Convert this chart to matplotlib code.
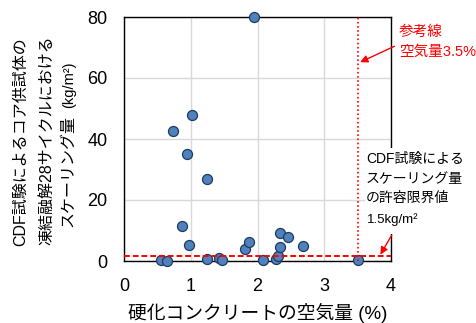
import matplotlib
matplotlib.use("Agg")
import matplotlib.pyplot as plt
from matplotlib.patches import Rectangle

# air content of hardened concrete (%) vs. scaling after 28 freeze-thaw cycles (kg/m2)
air_content = [1.95, 1.02, 0.73, 0.94, 1.24, 0.87, 0.97, 0.56, 0.65, 1.24, 1.42,
               1.47, 1.81, 1.88, 2.08, 2.27, 2.30, 2.33, 2.34, 2.46, 2.68, 3.50]
scaling = [80.0, 48.0, 42.7, 35.1, 27.0, 11.4, 5.4, 0.2, 0.0, 0.7, 0.9,
           0.3, 3.8, 6.2, 0.4, 0.7, 1.5, 4.6, 9.3, 7.8, 4.8, 0.3]

ref_air = 3.5        # reference air content (%)
limit_scaling = 1.5  # allowable scaling limit (kg/m2)

x_ticks = [0, 1, 2, 3, 4]
y_ticks = [0, 20, 40, 60, 80]

JP = ["Liberation Sans", "Noto Sans CJK JP"]
plt.rcParams["font.family"] = JP

W, H = 477, 323
fig = plt.figure(figsize=(W / 100, H / 100), dpi=100)


def fx(px):
    return px / W


def fy(py):
    return 1 - py / H


ax = fig.add_axes([fx(124), fy(261), (391 - 124) / W, (261 - 17) / H])
ax.set_xlim(0, 4)
ax.set_ylim(0, 80)
ax.set_xticks(x_ticks)
ax.set_yticks(y_ticks)
ax.tick_params(length=0, pad=12, labelsize=13)
ax.grid(True, color="#d9d9d9", linewidth=1)
ax.set_axisbelow(True)
for sp in ax.spines.values():
    sp.set_color("black")
    sp.set_linewidth(1)

ax.scatter(air_content, scaling, s=52, facecolor="#4f81bd", edgecolor="#1f3a5f",
           linewidth=0.9, zorder=3, clip_on=False)

# reference lines
ax.axvline(ref_air, color="red", linestyle=(0, (1, 1.5)), linewidth=1.2, zorder=4)
ax.axhline(limit_scaling, color="red", linestyle=(0, (3, 1.5)), linewidth=1.4, zorder=4)

# x label
ax.set_xlabel("硬化コンクリートの空気量 (%)", fontsize=13.5, labelpad=6)

# y label, three rotated lines
fig.text(fx(21), fy(142), "CDF試験によるコア供試体の", rotation=90,
         ha="center", va="center", fontsize=11.5)
fig.text(fx(47), fy(140), "凍結融解28サイクルにおける", rotation=90,
         ha="center", va="center", fontsize=11.5)
fig.text(fx(68), fy(227), "スケーリング量", rotation=90,
         ha="center", va="bottom", fontsize=11.5)
fig.text(fx(69), fy(108), "(kg/m²)", rotation=90,
         ha="center", va="bottom", fontsize=10.5)

# red note for the air content reference line
fig.text(fx(399), fy(25), "参考線\n空気量3.5%", color="red", fontsize=10.5,
         ha="left", va="top", linespacing=1.55)
ax.annotate("", xy=(ref_air, 64.8), xytext=(4.09, 70.8),
            arrowprops=dict(arrowstyle="-|>", color="red", lw=1, mutation_scale=11),
            annotation_clip=False)

# allowable limit note on a white box
fig.add_artist(Rectangle((fx(365), fy(234)), (W - 365) / W, (234 - 148) / H,
                         transform=fig.transFigure, facecolor="white",
                         edgecolor="none", zorder=5))
fig.text(fx(366), fy(152), "CDF試験による\nスケーリング量\nの許容限界値",
         fontsize=10, ha="left", va="top", linespacing=1.5, zorder=6)
fig.text(fx(367), fy(220), "1.5kg/m²", fontsize=9.5, ha="left", va="center", zorder=6)
ax.annotate("", xy=(3.82, limit_scaling - 0.2), xytext=(4.03, 9.2),
            arrowprops=dict(arrowstyle="-|>", color="red", lw=1, mutation_scale=11),
            annotation_clip=False, zorder=7)

fig.savefig("out.png", dpi=100)
